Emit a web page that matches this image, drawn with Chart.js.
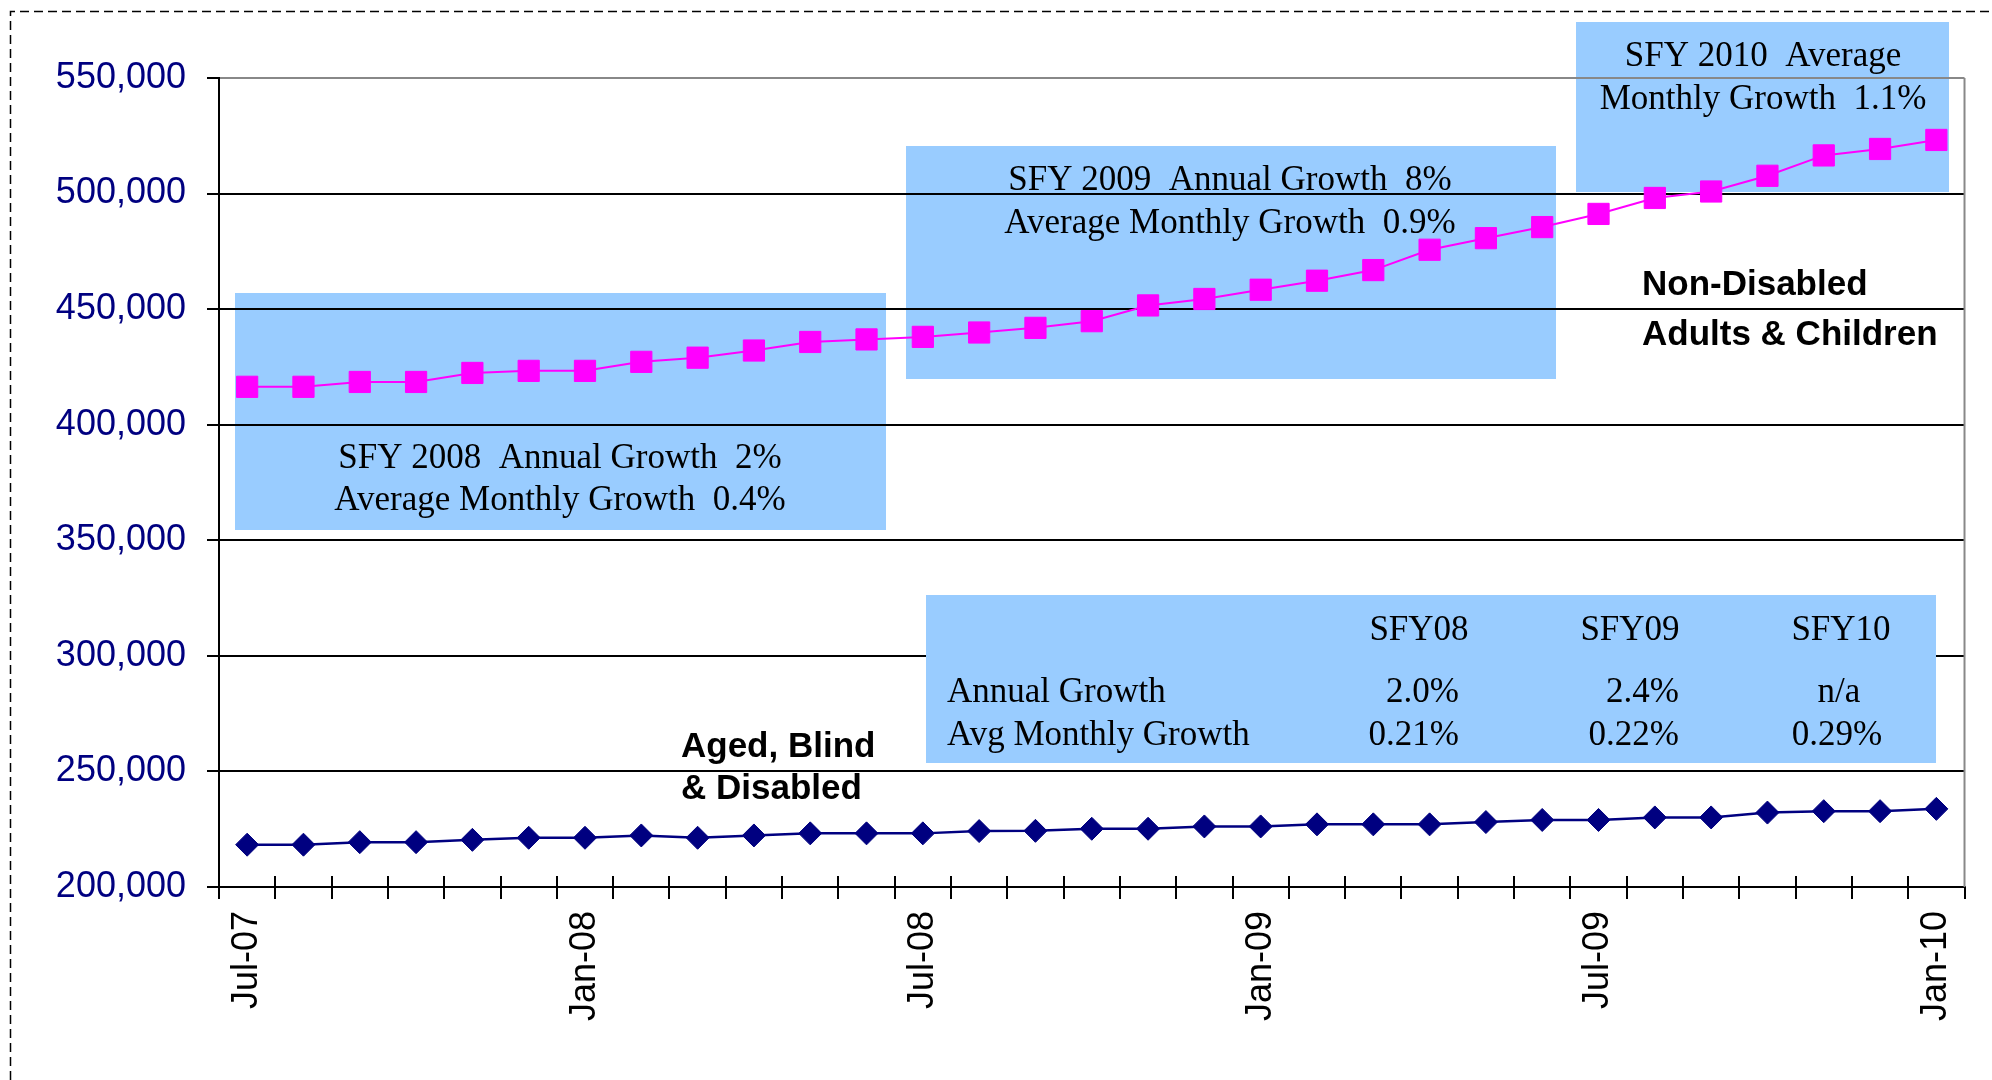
<!DOCTYPE html>
<html>
<head>
<meta charset="utf-8">
<title>Caseload growth</title>
<script src="https://cdn.jsdelivr.net/npm/chart.js@4.4.1/dist/chart.umd.min.js"></script>
<style>
  html, body { margin: 0; padding: 0; background: #fff; }
</style>
</head>
<body>
<canvas id="Graph" width="1992" height="1080"></canvas>
<script>
// x axis categories, one per month
var months = ['Jul-07','Aug-07','Sep-07','Oct-07','Nov-07','Dec-07',
  'Jan-08','Feb-08','Mar-08','Apr-08','May-08','Jun-08',
  'Jul-08','Aug-08','Sep-08','Oct-08','Nov-08','Dec-08',
  'Jan-09','Feb-09','Mar-09','Apr-09','May-09','Jun-09',
  'Jul-09','Aug-09','Sep-09','Oct-09','Nov-09','Dec-09','Jan-10'];
// only these months get a label
var tickLabels = ['Jul-07','Jan-08','Jul-08','Jan-09','Jul-09','Jan-10'];
var yTicks = [200000, 250000, 300000, 350000, 400000, 450000, 500000, 550000];

// caseloads
var nonDisabled = [416400, 416400, 418500, 418500, 422400, 423300, 423300, 427200, 429000, 432100,
  435800, 436900, 438000, 439900, 441900, 444800, 451600, 454400, 458400, 462300,
  466900, 475700, 480700, 485500, 491200, 498100, 500900, 507700, 516500, 519300, 523200];
var agedBlindDisabled = [218300, 218300, 219400, 219400, 220400, 221300, 221300, 222300, 221300, 222300,
  223200, 223200, 223200, 224200, 224300, 225200, 225200, 226200, 226200, 227100,
  227100, 227100, 228100, 229000, 229000, 230100, 230100, 232200, 232800, 232800, 233800];

// growth notes
var note2008 = ['SFY 2008  Annual Growth  2%', 'Average Monthly Growth  0.4%'];
var note2009 = ['SFY 2009  Annual Growth  8%', 'Average Monthly Growth  0.9%'];
var note2010 = ['SFY 2010  Average', 'Monthly Growth  1.1%'];
var tableHead = ['SFY08', 'SFY09', 'SFY10'];
var tableRows = ['Annual Growth', 'Avg Monthly Growth'];
var annualGrowth = ['2.0%', '2.4%', 'n/a'];
var monthlyGrowth = ['0.21%', '0.22%', '0.29%'];

var SERIF = "35px 'Liberation Serif', 'Times New Roman', serif";
var SANS_BOLD = "bold 35px 'Liberation Sans', Arial, sans-serif";
var BOX_FILL = '#99CCFF';

function textAt(ctx, s, x, y, align, font) {
  ctx.font = font;
  ctx.textAlign = align;
  ctx.textBaseline = 'alphabetic';
  ctx.fillStyle = '#000';
  ctx.fillText(s, x, y);
}

// page frame + the three shaded notes (these sit under the grid lines)
var notesUnder = {
  id: 'notesUnder',
  beforeDraw: function(chart) {
    var ctx = chart.ctx;
    ctx.save();
    ctx.fillStyle = '#fff';
    ctx.fillRect(0, 0, chart.width, chart.height);

    ctx.strokeStyle = '#000';
    ctx.lineWidth = 1.5;
    ctx.setLineDash([9, 5]);
    ctx.beginPath();
    ctx.moveTo(10.5, chart.height);
    ctx.lineTo(10.5, 11.5);
    ctx.lineTo(chart.width, 11.5);
    ctx.stroke();
    ctx.setLineDash([]);

    ctx.fillStyle = BOX_FILL;
    ctx.fillRect(235, 293, 651, 237);
    ctx.fillRect(906, 146, 650, 233);
    ctx.fillRect(1576, 22, 373, 170);

    textAt(ctx, note2008[0], 560, 468, 'center', SERIF);
    textAt(ctx, note2008[1], 560, 510, 'center', SERIF);
    textAt(ctx, note2009[0], 1230, 190, 'center', SERIF);
    textAt(ctx, note2009[1], 1230, 233, 'center', SERIF);
    textAt(ctx, note2010[0], 1763, 66, 'center', SERIF);
    textAt(ctx, note2010[1], 1763, 109, 'center', SERIF);

    textAt(ctx, 'Non-Disabled', 1642, 295, 'left', SANS_BOLD);
    textAt(ctx, 'Adults & Children', 1642, 345, 'left', SANS_BOLD);
    textAt(ctx, 'Aged, Blind', 681, 757, 'left', SANS_BOLD);
    textAt(ctx, '& Disabled', 681, 799, 'left', SANS_BOLD);
    ctx.restore();
  }
};

// growth table (covers the grid), plot frame and the inner half of the x ticks
var notesOver = {
  id: 'notesOver',
  beforeDatasetsDraw: function(chart) {
    var ctx = chart.ctx;
    var area = chart.chartArea;
    var x = chart.scales.x;
    ctx.save();

    ctx.fillStyle = BOX_FILL;
    ctx.fillRect(926, 595, 1010, 168);
    var headX = [1419, 1630, 1841];
    for (var i = 0; i < 3; i++) {
      textAt(ctx, tableHead[i], headX[i], 640, 'center', SERIF);
    }
    textAt(ctx, tableRows[0], 947, 702, 'left', SERIF);
    textAt(ctx, tableRows[1], 947, 745, 'left', SERIF);
    textAt(ctx, annualGrowth[0], 1459, 702, 'right', SERIF);
    textAt(ctx, annualGrowth[1], 1679, 702, 'right', SERIF);
    textAt(ctx, annualGrowth[2], 1839, 702, 'center', SERIF);
    textAt(ctx, monthlyGrowth[0], 1459, 745, 'right', SERIF);
    textAt(ctx, monthlyGrowth[1], 1679, 745, 'right', SERIF);
    textAt(ctx, monthlyGrowth[2], 1837, 745, 'center', SERIF);

    ctx.strokeStyle = '#888';
    ctx.lineWidth = 2;
    ctx.beginPath();
    ctx.moveTo(area.right, area.top);
    ctx.lineTo(area.right, area.bottom);
    ctx.stroke();

    var step = x.getPixelForValue(1) - x.getPixelForValue(0);
    ctx.strokeStyle = '#000';
    ctx.beginPath();
    for (var j = 1; j < months.length; j++) {
      var px = Math.round(x.getPixelForValue(j) - step / 2);
      ctx.moveTo(px, area.bottom - 11);
      ctx.lineTo(px, area.bottom);
    }
    ctx.stroke();
    ctx.restore();
  }
};

Chart.defaults.font.family = "'Liberation Sans', Arial, sans-serif";

var chart = new Chart(document.getElementById('Graph').getContext('2d'), {
  type: 'line',
  data: {
    labels: months,
    datasets: [{
      label: 'Non-Disabled Adults & Children',
      data: nonDisabled,
      borderColor: '#FF00FF',
      backgroundColor: '#FF00FF',
      borderWidth: 2,
      pointStyle: 'rect',
      pointRadius: 15,
      pointBorderWidth: 1,
      tension: 0
    }, {
      label: 'Aged, Blind & Disabled',
      data: agedBlindDisabled,
      borderColor: '#000080',
      backgroundColor: '#000080',
      borderWidth: 2.5,
      pointStyle: 'rectRot',
      pointRadius: 11.5,
      pointBorderWidth: 1,
      tension: 0
    }]
  },
  options: {
    responsive: false,
    animation: false,
    layout: { padding: { top: 78, right: 27, left: 0, bottom: 0 } },
    plugins: { legend: { display: false }, tooltip: { enabled: false } },
    scales: {
      x: {
        offset: true,
        grid: { offset: true, drawOnChartArea: false, drawTicks: true, tickLength: 12, color: '#000', lineWidth: 2 },
        border: { color: '#000', width: 2 },
        ticks: {
          autoSkip: false, maxRotation: 90, minRotation: 90, padding: 12,
          color: '#000', font: { size: 36 },
          callback: function(v, i) {
            return tickLabels.indexOf(months[i]) >= 0 ? months[i] : '';
          }
        },
        afterFit: function(s) { s.height = 193; }
      },
      y: {
        min: 200000,
        max: 550000,
        afterBuildTicks: function(s) {
          s.ticks = yTicks.map(function(v) { return { value: v }; });
        },
        grid: {
          color: function(c) { return c.tick && c.tick.value === 550000 ? '#888' : '#000'; },
          tickColor: '#000', lineWidth: 2, tickLength: 12
        },
        border: { color: '#000', width: 2 },
        ticks: {
          color: '#000080', font: { size: 36 }, padding: 21,
          callback: function(v) { return v.toLocaleString('en-US'); }
        },
        afterFit: function(s) { s.width = 219; }
      }
    }
  },
  plugins: [notesUnder, notesOver]
});
</script>
</body>
</html>
